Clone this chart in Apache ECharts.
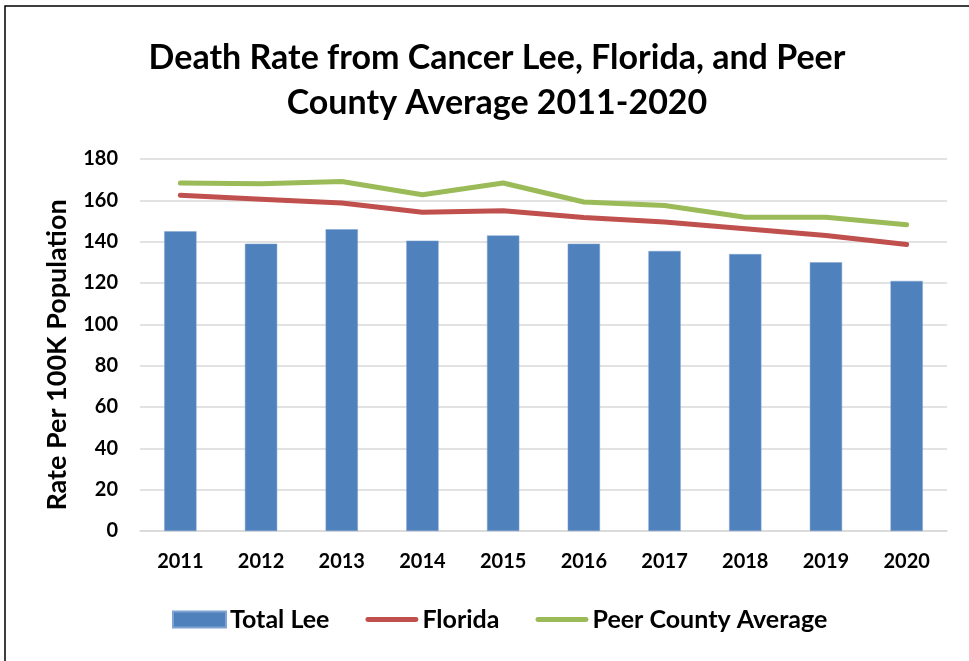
<!DOCTYPE html>
<html>
<head>
<meta charset="utf-8">
<script src="https://cdn.jsdelivr.net/npm/echarts@6/dist/echarts.min.js"></script>
<style>
  html, body { margin: 0; padding: 0; background: #fff; }
  #chart { width: 969px; height: 661px; }
</style>
</head>
<body>
<div id="chart"></div>
<script>
// data
const years = ['2011', '2012', '2013', '2014', '2015', '2016', '2017', '2018', '2019', '2020'];
const totalLee = [145, 139, 146, 140.5, 143, 139, 135.5, 134, 130, 121];
const florida = [162.5, 160.5, 158.7, 154.2, 155, 151.7, 149.5, 146.2, 143, 138.6];
const peerAverage = [168.4, 168, 169.1, 162.7, 168.4, 159.2, 157.5, 151.8, 151.8, 148.2];

const FONT = 'Lato';
// thin rounded bar used as legend icon for the line series
const LINE_ICON = 'path://M2.5,0 H52.5 A2.5,2.5 0 0 1 52.5,5 H2.5 A2.5,2.5 0 0 1 2.5,0 Z';

const chart = echarts.init(document.getElementById('chart'));

const option = {
    backgroundColor: '#fff',
    animation: false,
    title: {
        text: 'Death Rate from Cancer Lee, Florida, and Peer\nCounty Average 2011-2020',
        left: 492,
        textAlign: 'center',
        top: 31,
        textStyle: {
            fontFamily: FONT,
            fontWeight: 'bold',
            fontSize: 34,
            lineHeight: 45,
            color: '#000'
        }
    },
    graphic: [
        {
            type: 'rect',
            shape: { x: 5, y: 6, width: 980, height: 670 },
            style: { fill: 'none', stroke: '#000', lineWidth: 1.5 },
            silent: true
        }
    ],
    legend: {
        left: 172,
        top: 607,
        padding: 0,
        itemGap: 36,
        itemWidth: 53,
        itemHeight: 16,
        textStyle: {
            fontFamily: FONT,
            fontWeight: 'bold',
            fontSize: 25,
            color: '#000',
            padding: [0, 0, 0, -1]
        },
        data: [
            { name: 'Total Lee', icon: 'rect' },
            { name: 'Florida', icon: LINE_ICON },
            { name: 'Peer County Average', icon: LINE_ICON }
        ]
    },
    grid: {
        left: 140,
        right: 22,
        top: 159,
        bottom: 130,
        containLabel: false
    },
    xAxis: {
        type: 'category',
        data: years,
        axisTick: { show: false },
        axisLine: { lineStyle: { color: '#D9D9D9', width: 1.5 } },
        axisLabel: {
            margin: 21,
            fontFamily: FONT,
            fontWeight: 'bold',
            fontSize: 20,
            color: '#000'
        }
    },
    yAxis: {
        type: 'value',
        min: 0,
        max: 180,
        interval: 20,
        name: 'Rate Per 100K Population',
        nameLocation: 'middle',
        nameGap: 69,
        nameRotate: 90,
        nameTextStyle: {
            fontFamily: FONT,
            fontWeight: 'bold',
            fontSize: 27,
            color: '#000',
            padding: [0, 20, 0, 0]
        },
        axisLine: { show: false },
        axisTick: { show: false },
        axisLabel: {
            margin: 22,
            fontFamily: FONT,
            fontWeight: 'bold',
            fontSize: 20,
            color: '#000'
        },
        splitLine: { lineStyle: { color: '#D9D9D9', width: 1.5 } }
    },
    series: [
        {
            name: 'Total Lee',
            type: 'bar',
            barWidth: '40%',
            data: totalLee,
            itemStyle: { color: '#4F81BD', borderColor: '#7FA3D3', borderWidth: 0.5 }
        },
        {
            name: 'Florida',
            type: 'line',
            data: florida,
            symbol: 'none',
            lineStyle: { color: '#C0504D', width: 5, cap: 'round', join: 'round' },
            itemStyle: { color: '#C0504D' }
        },
        {
            name: 'Peer County Average',
            type: 'line',
            data: peerAverage,
            symbol: 'none',
            lineStyle: { color: '#9BBB59', width: 5, cap: 'round', join: 'round' },
            itemStyle: { color: '#9BBB59' }
        }
    ]
};

option && chart.setOption(option);
</script>
</body>
</html>
